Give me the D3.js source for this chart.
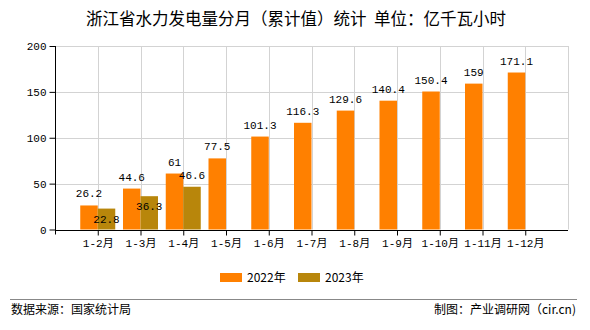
<!DOCTYPE html>
<html><head><meta charset="utf-8">
<script src="https://cdn.jsdelivr.net/npm/d3@7"></script>
<style>
body{margin:0;background:#fff;}
svg{display:block;}
text{font-family:"Liberation Mono","Noto Sans CJK SC",monospace;}
</style></head>
<body><svg id="c" width="590" height="330"></svg>
<script>
const categories = ["1-2月","1-3月","1-4月","1-5月","1-6月","1-7月","1-8月","1-9月","1-10月","1-11月","1-12月"];
const values2022 = [26.2,44.6,61,77.5,101.3,116.3,129.6,140.4,150.4,159,171.1];
const values2023 = [22.8,36.3,46.6,null,null,null,null,null,null,null,null];
const seriesNames = ["2022年","2023年"];
const yTicks = [0,50,100,150,200];
const colors = ["#FF8000","#B8860B"];

(function(){
const svg = d3.select("#c");
const pL = 55, pR = 568, pT = 46, pB = 229.5;
const step = (pR-pL)/12;
const x = d3.scalePoint().domain(categories).range([pL+step, pR-step]);
const y = d3.scaleLinear().domain([0,200]).range([pB, pT]);
const bw = 17.5;

// title
svg.append("text").attr("x",296).attr("y",25).attr("text-anchor","middle")
  .style("font-family","'Noto Sans CJK SC',sans-serif").style("font-size","16.5px").attr("fill","#000")
  .style("white-space","pre")
  .text("浙江省水力发电量分月（累计值）统计\u00a0 单位：亿千瓦小时");

// grid
const g = svg.append("g");
g.selectAll(".hg").data(yTicks.filter(d=>d>0)).enter().append("line")
  .attr("x1",pL).attr("x2",pR).attr("y1",d=>Math.round(y(d))+0.5).attr("y2",d=>Math.round(y(d))+0.5)
  .attr("stroke","#d3d3d3").attr("stroke-width",1);
g.selectAll(".vg").data(categories).enter().append("line")
  .attr("x1",d=>Math.round(x(d))+0.5).attr("x2",d=>Math.round(x(d))+0.5).attr("y1",pT).attr("y2",pB)
  .attr("stroke","#d3d3d3");
g.append("line").attr("x1",pR+0.5).attr("x2",pR+0.5).attr("y1",pT).attr("y2",pB).attr("stroke","#d3d3d3");

// bars
const series = [values2022, values2023];
series.forEach((vals,si)=>{
  svg.append("g").selectAll("rect").data(categories.map((c,i)=>({c,v:vals[i]})).filter(d=>d.v!=null))
    .enter().append("rect")
    .attr("x",d=>x(d.c) + (si===0?-bw:0))
    .attr("y",d=>y(d.v)).attr("width",bw).attr("height",d=>pB-y(d.v))
    .attr("fill",colors[si]);
});

// axes
const yAxis = svg.append("g").attr("transform",`translate(${pL+0.5},0)`)
  .call(d3.axisLeft(y).tickValues(yTicks).tickSize(6).tickSizeOuter(0));
yAxis.select(".domain").remove();
yAxis.append("line").attr("x1",0).attr("x2",0).attr("y1",pT).attr("y2",pB+5).attr("stroke","#000");
yAxis.selectAll("text").style("font-size","11px").attr("fill","#000").attr("font-family",null);
yAxis.selectAll(".tick line").attr("stroke","#000");

const xAxis = svg.append("g").attr("transform",`translate(0,${Math.round(pB)+0.5})`)
  .call(d3.axisBottom(x).tickSize(5).tickSizeOuter(0).tickPadding(4));
xAxis.select(".domain").remove();
xAxis.append("line").attr("x1",pL).attr("x2",pR).attr("stroke","#000");
xAxis.selectAll("text").style("font-size","11px").attr("fill","#000").attr("font-family",null);
xAxis.selectAll(".tick line").attr("stroke","#000");

// labels
const lab = svg.append("g").style("font-size","11px").attr("text-anchor","middle").attr("fill","#000");
categories.forEach((c,i)=>{
  const v1 = values2022[i];
  lab.append("text").attr("x",x(c)-bw/2).attr("y",y(v1)-8).text(v1);
  const v2 = values2023[i];
  if(v2!=null){
    const inside = (v1 - v2) < 10;
    lab.append("text").attr("x",x(c)+bw/2).attr("y",inside? y(v2)+14 : y(v2)-8).text(v2);
  }
});

// legend
const lg = svg.append("g");
const lx = [220,298];
seriesNames.forEach((n,i)=>{
  lg.append("rect").attr("x",lx[i]).attr("y",273).attr("width",22).attr("height",9).attr("fill",colors[i]);
  lg.append("text").attr("x",lx[i]+27).attr("y",282).style("font-size","12px")
    .style("font-family","'Noto Sans CJK SC',sans-serif").attr("fill","#000").text(n);
});

// footer
svg.append("line").attr("x1",10).attr("x2",577).attr("y1",299.5).attr("y2",299.5).attr("stroke","#888");
svg.append("text").attr("x",11).attr("y",314).style("font-size","12px")
  .style("font-family","'Noto Sans CJK SC',sans-serif").attr("fill","#000").text("数据来源：国家统计局");
svg.append("text").attr("x",576).attr("y",314).attr("text-anchor","end").style("font-size","12px")
  .style("font-family","'Noto Sans CJK SC',sans-serif").attr("fill","#000").text("制图：产业调研网（cir.cn)");
})();
</script></body></html>
